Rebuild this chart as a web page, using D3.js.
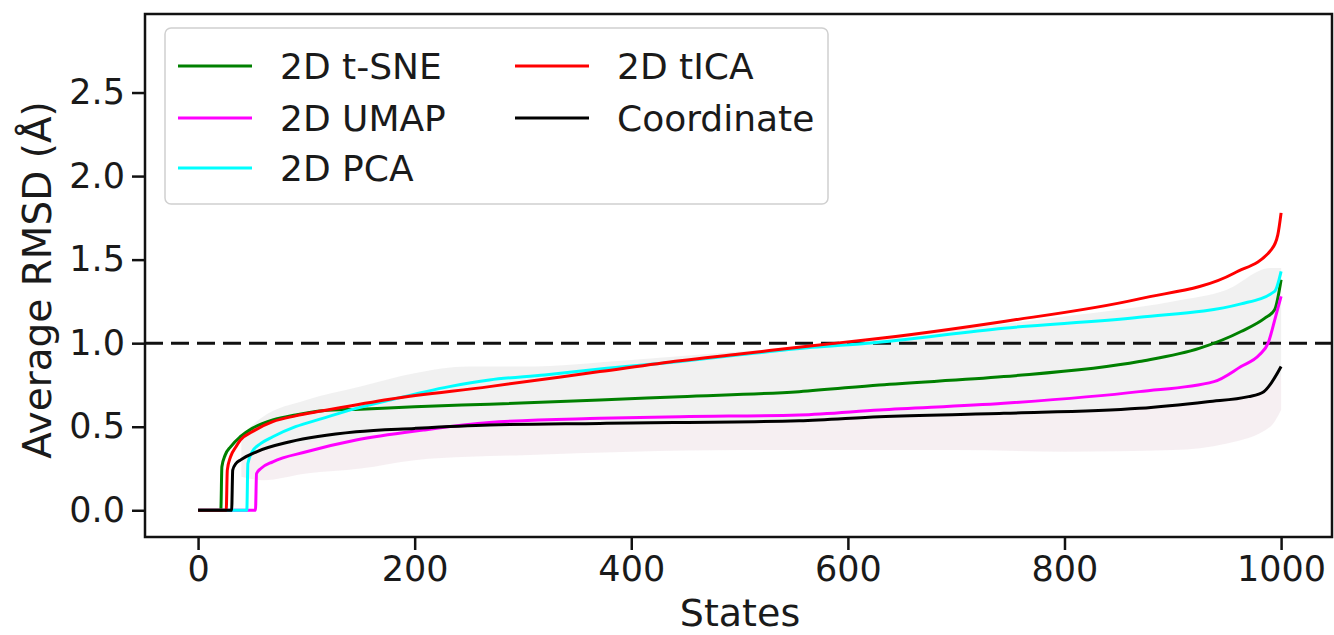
<!DOCTYPE html>
<html>
<head>
<meta charset="utf-8">
<title>Average RMSD per state</title>
<script src="https://cdn.jsdelivr.net/npm/d3@7/dist/d3.min.js"></script>
<style>
  body { margin: 0; background: #fff; }
  svg text { font-family: "DejaVu Sans", sans-serif; fill: #1a1a1a; }
</style>
<script>
// series: [state, average RMSD]
var tsne = [[0,0],[21,0],[22,0.26],[25,0.33],[30,0.38],[39,0.44],[50,0.49],[69,0.54],[90,0.57],[115,0.595],[150,0.605],[200,0.62],[269,0.635],[371,0.66],[445,0.68],[555,0.71],[629,0.75],[744,0.80],[869,0.89],[925,0.97],[963,1.07],[985,1.15],[994,1.20],[1000,1.38]];
var umap = [[0,0],[53,0],[54,0.22],[58,0.25],[69,0.29],[100,0.35],[146,0.42],[208,0.48],[269,0.525],[371,0.55],[445,0.56],[555,0.57],[629,0.60],[744,0.64],[869,0.71],[938,0.77],[963,0.86],[980,0.93],[988,1.0],[995,1.16],[1000,1.28]];
var pca = [[0,0],[45,0],[46,0.28],[50,0.35],[58,0.40],[69,0.44],[90,0.50],[115,0.55],[146,0.61],[177,0.66],[232,0.74],[269,0.78],[320,0.81],[371,0.845],[445,0.89],[500,0.93],[567,0.975],[618,1.0],[744,1.09],[869,1.155],[963,1.235],[994,1.31],[1000,1.43]];
var tica = [[0,0],[26,0],[27,0.24],[30,0.32],[35,0.38],[39,0.42],[50,0.47],[69,0.53],[90,0.565],[115,0.595],[177,0.665],[269,0.74],[371,0.83],[445,0.895],[500,0.935],[567,0.985],[618,1.02],[744,1.13],[869,1.265],[957,1.42],[991,1.56],[997,1.65],[1000,1.78]];
var coord = [[0,0],[31,0],[32,0.24],[35,0.28],[39,0.30],[54,0.35],[85,0.41],[146,0.47],[200,0.49],[269,0.51],[371,0.52],[555,0.535],[629,0.56],[744,0.58],[869,0.61],[932,0.65],[970,0.68],[984,0.71],[1000,0.86]];

// faint spread bands behind the lines
var bandStates = [40,60,100,150,200,250,300,400,500,600,700,800,900,950,990,1000];
var grayUpper = [0.45,0.56,0.66,0.74,0.82,0.86,0.86,0.90,0.95,1.00,1.08,1.16,1.25,1.32,1.45,1.45];
var grayLower = [0.30,0.36,0.40,0.45,0.48,0.50,0.51,0.52,0.53,0.54,0.57,0.59,0.63,0.66,0.75,0.80];
var pinkLower = [0.20,0.18,0.22,0.25,0.30,0.32,0.33,0.35,0.36,0.36,0.36,0.35,0.36,0.40,0.50,0.60];

var seriesNames = ['2D t-SNE', '2D UMAP', '2D PCA', '2D tICA', 'Coordinate'];
var seriesColors = ['#008000', '#ff00ff', '#00ffff', '#ff0000', '#000000'];
var xTicks = [0, 200, 400, 600, 800, 1000];
var yTicks = [0.0, 0.5, 1.0, 1.5, 2.0, 2.5];

window.onload = function() {
  var W = 1334, H = 635;
  var left = 145, top = 14, right = 1332, bottom = 537;
  var svg = d3.select('body').append('svg').attr('width', W).attr('height', H);

  var x = d3.scaleLinear().domain([-49, 1047]).range([left, right]);
  var y = d3.scaleLinear().domain([-0.16, 2.97]).range([bottom, top]);

  var plot = svg.append('g');

  // bands
  var band = bandStates.map(function(s, i){ return {s: s, hi: grayUpper[i], lo: grayLower[i], pl: pinkLower[i]}; });
  plot.append('path').datum(band)
    .attr('fill', '#e4e4e4').attr('opacity', 0.5)
    .attr('d', d3.area().curve(d3.curveMonotoneX).x(function(d){ return x(d.s); })
      .y0(function(d){ return y(d.lo); }).y1(function(d){ return y(d.hi); }));
  plot.append('path').datum(band)
    .attr('fill', '#efe2e8').attr('opacity', 0.55)
    .attr('d', d3.area().curve(d3.curveMonotoneX).x(function(d){ return x(d.s); })
      .y0(function(d){ return y(d.pl); }).y1(function(d){ return y(d.lo); }));

  // dashed reference at 1 Å
  plot.append('line')
    .attr('x1', left).attr('x2', right).attr('y1', y(1)).attr('y2', y(1))
    .attr('stroke', '#111').attr('stroke-width', 3).attr('stroke-dasharray', '18,8');

  var line = d3.line().curve(d3.curveMonotoneX)
    .x(function(d){ return x(d[0]); }).y(function(d){ return y(d[1]); });
  [tsne, umap, pca, tica, coord].forEach(function(s, i) {
    plot.append('path').datum(s)
      .attr('fill', 'none').attr('stroke', seriesColors[i]).attr('stroke-width', 3)
      .attr('stroke-linejoin', 'round').attr('d', line);
  });

  // axes
  var xAxis = svg.append('g').attr('transform', 'translate(0,' + bottom + ')')
    .call(d3.axisBottom(x).tickValues(xTicks).tickSize(13).tickPadding(6).tickFormat(d3.format('d')));
  var yAxis = svg.append('g').attr('transform', 'translate(' + left + ',0)')
    .call(d3.axisLeft(y).tickValues(yTicks).tickSize(13).tickPadding(7).tickFormat(d3.format('.1f')));
  [xAxis, yAxis].forEach(function(a) {
    a.select('.domain').remove();
    a.selectAll('.tick line').attr('stroke', '#111').attr('stroke-width', 2.5);
    a.selectAll('.tick text').attr('font-size', 35).attr('fill', '#1a1a1a')
      .style('font-family', '"DejaVu Sans", sans-serif');
  });

  // frame
  svg.append('rect').attr('x', left).attr('y', top)
    .attr('width', right - left).attr('height', bottom - top)
    .attr('fill', 'none').attr('stroke', '#111').attr('stroke-width', 2.5);

  // labels
  svg.append('text').attr('x', 740).attr('y', 626)
    .attr('text-anchor', 'middle').attr('font-size', 38).text('States');
  svg.append('text').attr('transform', 'translate(51,280) rotate(-90)')
    .attr('text-anchor', 'middle').attr('font-size', 39).text('Average RMSD (Å)');

  // legend
  var lg = svg.append('g');
  lg.append('rect').attr('x', 165).attr('y', 28).attr('width', 663).attr('height', 176)
    .attr('rx', 6).attr('fill', '#fff').attr('fill-opacity', 0.8)
    .attr('stroke', '#d0d0d0').attr('stroke-width', 1.5);
  var pos = [[178, 66], [178, 118], [178, 168], [515, 66], [515, 118]];
  seriesNames.forEach(function(name, i) {
    var p = pos[i];
    lg.append('line').attr('x1', p[0]).attr('x2', p[0] + 74).attr('y1', p[1]).attr('y2', p[1])
      .attr('stroke', seriesColors[i]).attr('stroke-width', 3);
    lg.append('text').attr('x', p[0] + 102).attr('y', p[1] + 13)
      .attr('font-size', 36).text(name);
  });
};
</script>
</head>
<body>
</body>
</html>
